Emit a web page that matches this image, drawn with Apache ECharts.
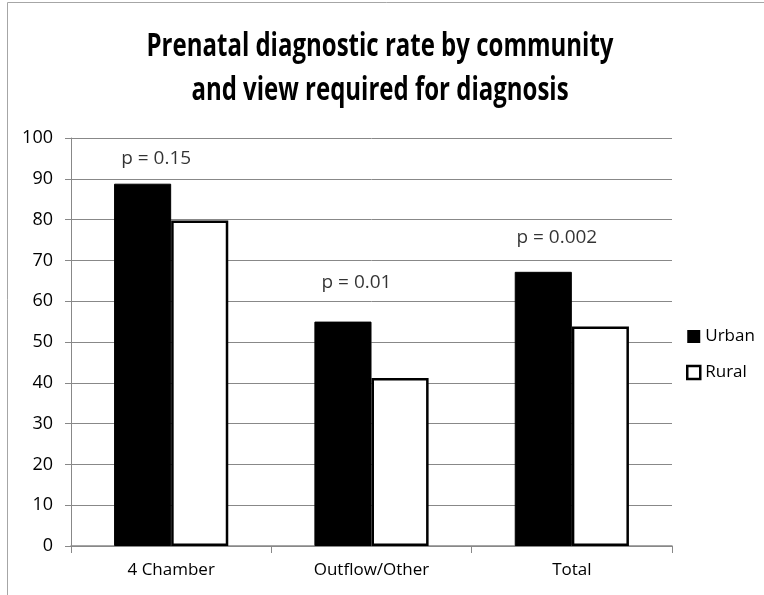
<!DOCTYPE html>
<html><head><meta charset="utf-8">
<script src="https://cdn.jsdelivr.net/npm/echarts@6/dist/echarts.min.js"></script>
<style>html,body{margin:0;padding:0;background:#fff}#c{width:764px;height:595px}</style>
</head><body><div id="c"></div>
<script>
const categories = ['4 Chamber', 'Outflow/Other', 'Total'];
const urban = [88.8, 55.0, 67.2];
const rural = [79.8, 41.2, 53.8];
const pLabels = ['p = 0.15', 'p = 0.01', 'p = 0.002'];
const pY = [95, 64.5, 75.7];
const yTicks = [0, 10, 20, 30, 40, 50, 60, 70, 80, 90, 100];
const titleLines = ['Prenatal diagnostic rate by community', 'and view required for diagnosis'];

const FONT = '"Open Sans", sans-serif';
const chart = echarts.init(document.getElementById('c'));
chart.setOption({
  animation: false,
  backgroundColor: '#fff',
  graphic: [
    {type: 'rect', shape: {x: 7.5, y: 2.5, width: 900, height: 800},
     style: {fill: null, stroke: '#a6a6a6', lineWidth: 1}, silent: true},
    {type: 'text', x: 380, y: 47, scaleX: 0.75, silent: true,
     style: {text: titleLines[0], fill: '#000', font: 'bold 32px "Open Sans", sans-serif',
       textAlign: 'center', textVerticalAlign: 'middle'}},
    {type: 'text', x: 380, y: 91, scaleX: 0.75, silent: true,
     style: {text: titleLines[1], fill: '#000', font: 'bold 32px "Open Sans", sans-serif',
       textAlign: 'center', textVerticalAlign: 'middle'}}
  ],
  legend: {
    orient: 'vertical', left: 686, top: 328, itemGap: 19, padding: 0,
    itemWidth: 13, itemHeight: 13,
    textStyle: {fontFamily: FONT, fontSize: 17, color: '#000'},
    data: [
      {name: 'Urban', icon: 'rect', itemStyle: {color: '#000', borderColor: '#000', borderWidth: 0}},
      {name: 'Rural', icon: 'rect', itemStyle: {color: '#fff', borderColor: '#000', borderWidth: 2.5}}
    ]
  },
  grid: {left: 71, right: 92, top: 138, bottom: 49},
  xAxis: {
    type: 'category', data: categories,
    axisLine: {lineStyle: {color: '#888', width: 1.5}},
    axisTick: {show: true, length: 7, lineStyle: {color: '#888'}},
    axisLabel: {fontFamily: FONT, fontSize: 17, color: '#000', margin: 16}
  },
  yAxis: {
    type: 'value', min: 0, max: 100, interval: 10,
    axisLine: {show: true, lineStyle: {color: '#888'}},
    axisTick: {show: true, length: 6, lineStyle: {color: '#888'}},
    splitLine: {lineStyle: {color: '#888', width: 1}},
    axisLabel: {fontFamily: FONT, fontSize: 18, color: '#000', margin: 18,
      formatter: v => yTicks.includes(v) ? String(v) : ''}
  },
  series: [
    {name: 'Urban', type: 'bar', data: urban, barGap: '0%', barCategoryGap: '43%',
     itemStyle: {color: '#000', borderColor: '#000', borderWidth: 1}},
    {name: 'Rural', type: 'bar', data: rural,
     itemStyle: {color: '#fff', borderColor: '#000', borderWidth: 2.5}},
    {name: 'p', type: 'scatter', symbolSize: 0, silent: true,
     data: categories.map((c, i) => [c, pY[i]]),
     label: {show: true, position: 'inside', offset: [-15, 0],
       fontFamily: FONT, fontSize: 19, color: '#000',
       formatter: p => pLabels[p.dataIndex]}}
  ]
});
</script></body></html>
